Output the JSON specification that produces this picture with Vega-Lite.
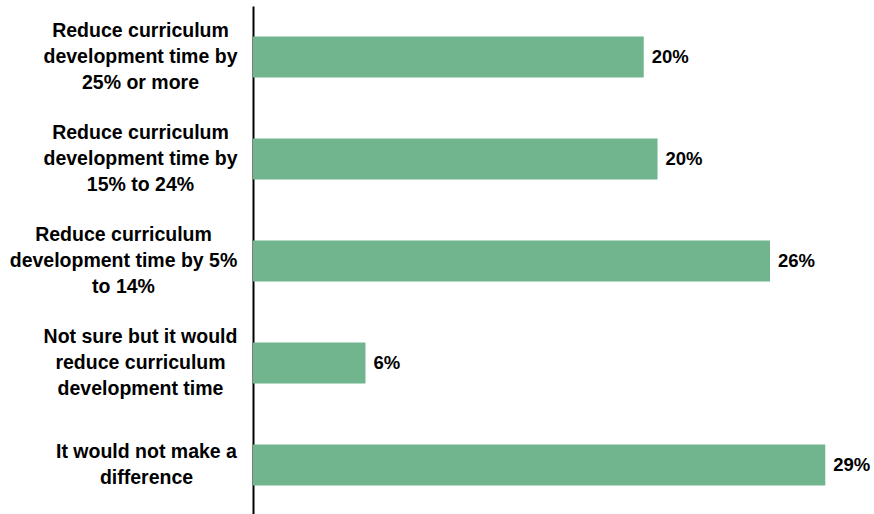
{
  "$schema": "https://vega.github.io/schema/vega-lite/v6.json",
  "autosize": "none",
  "width": 592,
  "height": 510,
  "padding": {"left": 253, "top": 6, "right": 29, "bottom": 0},
  "background": "white",
  "config": {"view": {"stroke": null}},
  "data": {
    "values": [
      {"cat": "Reduce curriculum|development time by|25% or more", "value": 19.8, "label": "20%"},
      {"cat": "Reduce curriculum|development time by|15% to 24%", "value": 20.5, "label": "20%"},
      {"cat": "Reduce curriculum|development time by 5%|to 14%", "value": 26.2, "label": "26%"},
      {"cat": "Not sure but it would|reduce curriculum|development time", "value": 5.7, "label": "6%"},
      {"cat": "It would not make a|difference", "value": 29.0, "label": "29%"}
    ]
  },
  "encoding": {
    "y": {
      "field": "cat",
      "type": "nominal",
      "sort": null,
      "scale": {"paddingInner": 0.6, "paddingOuter": 0.3},
      "axis": {
        "title": null,
        "domain": true,
        "domainColor": "#000000",
        "domainWidth": 2,
        "ticks": false,
        "labelExpr": "split(datum.value, '|')",
        "labelFont": "Liberation Sans",
        "labelFontWeight": "bold",
        "labelFontSize": 19.5,
        "labelColor": "#000000",
        "labelAlign": "center",
        "labelBaseline": "middle",
        "labelPadding": {
          "condition": [
            {"test": "indexof(datum.value, 'by 5%') >= 0", "value": 130},
            {"test": "indexof(datum.value, 'difference') >= 0", "value": 107}
          ],
          "value": 113
        },
        "labelLineHeight": 26,
        "labelOffset": {"condition": {"test": "indexof(datum.value, 'difference') >= 0", "value": -13}, "value": -26},
        "labelLimit": 0,
        "labelOverlap": false
      }
    },
    "x": {
      "field": "value",
      "type": "quantitative",
      "scale": {"domain": [0, 30], "nice": false},
      "axis": null
    }
  },
  "layer": [
    {"mark": {"type": "bar", "color": "#71B58F"}},
    {
      "mark": {
        "type": "text",
        "align": "left",
        "baseline": "middle",
        "dx": 8,
        "font": "Liberation Sans",
        "fontWeight": "bold",
        "fontSize": 18.5,
        "color": "#000000"
      },
      "encoding": {"text": {"field": "label"}}
    }
  ]
}
